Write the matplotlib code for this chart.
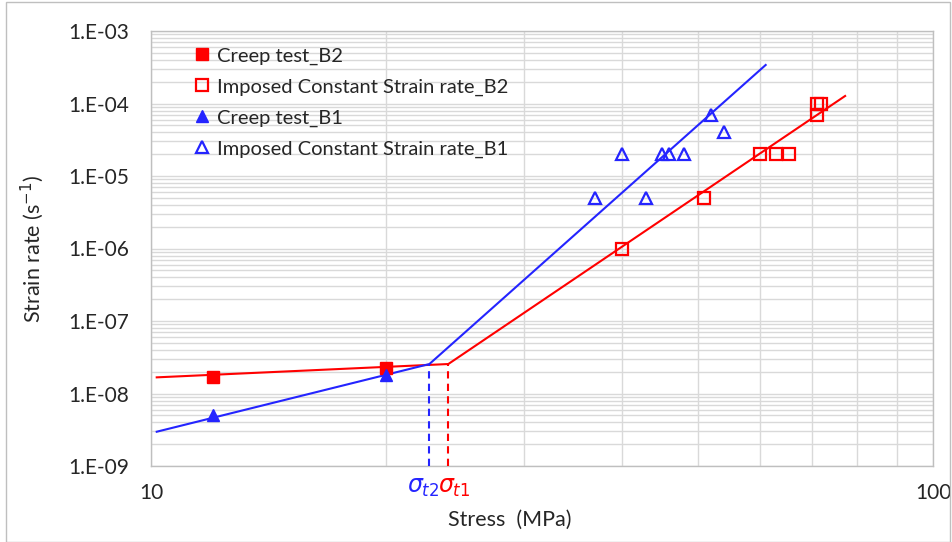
import matplotlib
matplotlib.use('AGG')

import matplotlib.pyplot as plt
import matplotlib.ticker as mticker
from matplotlib.patches import Rectangle
from matplotlib.transforms import blended_transform_factory
import numpy as np

plt.rcParams['font.family'] = ['Lato', 'DejaVu Sans']

RED = '#ff0000'
BLUE = '#2424ff'

# data (stress MPa, strain rate 1/s)
creep_b2_x = [12, 20]
creep_b2_y = [1.7e-8, 2.25e-8]

ics_b2_x = [40, 51, 60, 63, 65.5, 71, 71, 72]
ics_b2_y = [1e-6, 5e-6, 2e-5, 2e-5, 2e-5, 7e-5, 1e-4, 1e-4]

creep_b1_x = [12, 20]
creep_b1_y = [5e-9, 1.8e-8]

ics_b1_x = [37, 40, 43, 45, 46, 48, 52, 54]
ics_b1_y = [5e-6, 2e-5, 5e-6, 2e-5, 2e-5, 2e-5, 7e-5, 4e-5]

# fitted lines (bilinear in log-log)
fit_b2_x = [10.17, 24.0, 77.2]
fit_b2_y = [1.67e-8, 2.55e-8, 1.27e-4]
fit_b1_x = [10.17, 22.7, 61.1]
fit_b1_y = [2.97e-9, 2.55e-8, 3.4e-4]

sigma_t1 = 24.0
sigma_t2 = 22.7
sigma_y = 2.55e-8

y_ticks = [1e-9, 1e-8, 1e-7, 1e-6, 1e-5, 1e-4, 1e-3]
y_ticklabels = ['1.E-09', '1.E-08', '1.E-07', '1.E-06', '1.E-05', '1.E-04', '1.E-03']
x_ticks = [10, 100]
x_ticklabels = ['10', '100']

fig = plt.figure(figsize=(9.52, 5.42), dpi=100)
ax = fig.add_axes([151/952, 1-466/542, 782/952, 435/542])

ax.set_xscale('log')
ax.set_yscale('log')
ax.set_xlim(10, 100)
ax.set_ylim(1e-9, 1e-3)

# lines
ax.plot(fit_b2_x, fit_b2_y, color=RED, lw=1.5, zorder=3)
ax.plot(fit_b1_x, fit_b1_y, color=BLUE, lw=1.5, zorder=3)
ax.vlines([sigma_t2], 1e-9, sigma_y, colors=BLUE, linestyles=(0, (3.5, 2.5)), lw=1.5, zorder=3)
ax.vlines([sigma_t1], 1e-9, sigma_y, colors=RED, linestyles=(0, (3.5, 2.5)), lw=1.5, zorder=3)

# markers
ax.plot(creep_b2_x, creep_b2_y, 's', color=RED, ms=8.5, ls='none',
        label='Creep test_B2', zorder=4)
ax.plot(ics_b2_x, ics_b2_y, 's', mfc='none', mec=RED, mew=1.6, ms=8, ls='none',
        label='Imposed Constant Strain rate_B2', zorder=4)
ax.plot(creep_b1_x, creep_b1_y, '^', color=BLUE, ms=9, ls='none',
        label='Creep test_B1', zorder=4)
ax.plot(ics_b1_x, ics_b1_y, '^', mfc='none', mec=BLUE, mew=1.6, ms=8.5, ls='none',
        label='Imposed Constant Strain rate_B1', zorder=4)

# ticks and grid
ax.xaxis.set_major_locator(mticker.FixedLocator(x_ticks))
ax.xaxis.set_major_formatter(mticker.FixedFormatter(x_ticklabels))
ax.xaxis.set_minor_locator(mticker.FixedLocator(
    [d * s for d in (10,) for s in range(2, 10)]))
ax.xaxis.set_minor_formatter(mticker.NullFormatter())
ax.yaxis.set_major_locator(mticker.FixedLocator(y_ticks))
ax.yaxis.set_major_formatter(mticker.FixedFormatter(y_ticklabels))
ax.yaxis.set_minor_locator(mticker.FixedLocator(
    [d * s for d in y_ticks[:-1] for s in range(2, 10)]))
ax.yaxis.set_minor_formatter(mticker.NullFormatter())

ax.tick_params(which='both', length=0, labelsize=15, colors='#262626')
ax.tick_params(axis='y', pad=16)
ax.tick_params(axis='x', pad=12)
ax.grid(True, which='both', color='#d9d9d9', lw=1.0, zorder=0)
ax.set_axisbelow(True)
for s in ax.spines.values():
    s.set_color('#bfbfbf')
    s.set_linewidth(1.0)

ax.set_ylabel('Strain rate (s$^{-1}$)', fontsize=15.5, color='#262626')
ax.yaxis.set_label_coords(-0.134, 0.5)
ax.set_xlabel('Stress  (MPa)', fontsize=15.5, color='#262626')
ax.xaxis.set_label_coords((510 - 151) / 782, -0.1)

# sigma labels under the axis
trans = blended_transform_factory(ax.transData, ax.transAxes)
ax.text(sigma_t2 * 0.981, -0.05, r'$\sigma_{t2}$', color=BLUE, fontsize=17,
        ha='center', va='center', transform=trans)
ax.text(sigma_t1 * 1.017, -0.05, r'$\sigma_{t1}$', color=RED, fontsize=17,
        ha='center', va='center', transform=trans)

leg = ax.legend(loc='upper left', bbox_to_anchor=(0.037, 0.995), frameon=False,
                fontsize=14.5, handlelength=0.8, handletextpad=0.35,
                labelspacing=0.68, borderaxespad=0.3)
for t in leg.get_texts():
    t.set_color('#262626')

# outer frame of the chart
fig.patches.append(Rectangle((6/952, 0.5/542), 944/952, 540/542, transform=fig.transFigure,
                             fill=False, edgecolor='#bfbfbf', lw=1.0))

fig.savefig('out.png', dpi=100)
